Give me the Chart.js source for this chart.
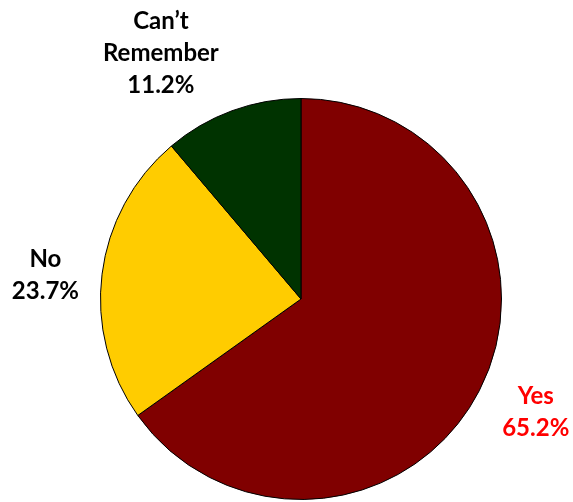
<!DOCTYPE html>
<html><head><meta charset="utf-8">
<script src="https://cdn.jsdelivr.net/npm/chart.js@4/dist/chart.umd.min.js"></script>
<style>html,body{margin:0;padding:0;background:#fff}#wrap{width:573px;height:502px}</style>
</head><body><div id="wrap"><canvas id="c" width="573" height="502"></canvas></div>
<script>
const categories = ["Yes", "No", "Can\u2019t Remember"];
const labelLines = [["Yes"], ["No"], ["Can\u2019t", "Remember"]];
const values = [65.2, 23.7, 11.2];
const colors = ["#800000", "#FFCC00", "#003300"];
const labelColors = ["#FF0000", "#000000", "#000000"];
// label placement: radial factor and angle shift (radians)
const labelRadial = [1.30, 1.28, 1.41];
const labelAngleShift = [0.026, 0.033, 0.167];

const labelPlugin = {
  id: 'sliceLabels',
  afterDatasetsDraw(chart) {
    const ctx = chart.ctx;
    const meta = chart.getDatasetMeta(0);
    ctx.save();
    ctx.font = 'bold 24px Lato';
    ctx.textAlign = 'center';
    ctx.textBaseline = 'middle';
    const lh = 32;
    meta.data.forEach((arc, i) => {
      const p = arc.getProps(['x','y','startAngle','endAngle','outerRadius'], true);
      const mid = (p.startAngle + p.endAngle) / 2 - labelAngleShift[i];
      const r = p.outerRadius * labelRadial[i];
      const cx = p.x + Math.cos(mid) * r;
      const cy = p.y + Math.sin(mid) * r;
      const lines = labelLines[i].concat([values[i].toFixed(1) + '%']);
      const y0 = cy - (lines.length - 1) * lh / 2;
      ctx.fillStyle = labelColors[i];
      lines.forEach((t, k) => ctx.fillText(t, cx, y0 + k * lh));
    });
    ctx.restore();
  }
};

new Chart(document.getElementById('c'), {
  type: 'pie',
  data: { labels: categories, datasets: [{ data: values, backgroundColor: colors, borderColor: '#000', borderWidth: 1 }] },
  options: {
    responsive: false, animation: false, devicePixelRatio: 1,
    layout: { padding: { left: 100, right: 71, top: 98, bottom: 2 } },
    plugins: { legend: { display: false }, tooltip: { enabled: false } }
  },
  plugins: [labelPlugin]
});
</script></body></html>
